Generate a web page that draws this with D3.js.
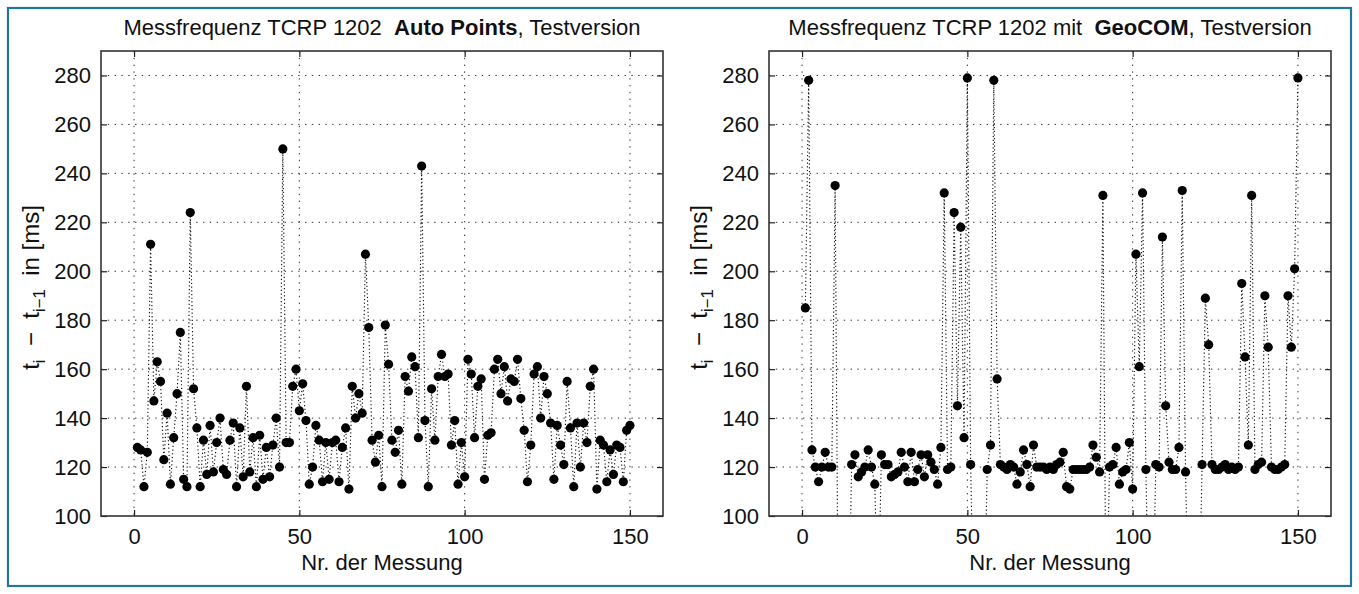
<!DOCTYPE html>
<html>
<head>
<meta charset="utf-8">
<script src="https://cdn.jsdelivr.net/npm/d3@7"></script>
<style>
  body { margin: 0; background: #fff; }
  svg { display: block; }
  text { font-family: "Liberation Sans", Arial, Helvetica, sans-serif; fill: #111; }
</style>
</head>
<body>
<svg id="chart" width="1359" height="594"></svg>
<script>
// ---------- data ----------
const xTicks = [0, 50, 100, 150];
const yTicks = [100, 120, 140, 160, 180, 200, 220, 240, 260, 280];
const xLabel = "Nr. der Messung";

// Left panel: Auto Points, measurement 1..150, t_i - t_{i-1} in ms
const autoPointsValues = [
  128,127,112,126,211,147,163,155,123,142,
  113,132,150,175,115,112,224,152,136,112,
  131,117,137,118,130,140,119,117,131,138,
  112,136,116,153,118,132,112,133,115,128,
  116,129,140,120,250,130,130,153,160,143,
  154,139,113,120,137,131,114,130,115,130,
  131,114,128,136,111,153,140,150,142,207,
  177,131,122,133,112,178,162,131,126,135,
  113,157,151,165,161,132,243,139,112,152,
  131,157,166,157,158,129,139,113,130,116,
  164,158,132,153,156,115,133,134,160,164,
  150,161,147,156,155,164,148,135,114,129,
  158,161,140,157,150,138,115,137,129,121,
  155,136,112,138,120,138,130,153,160,111,
  131,129,114,127,117,129,128,114,135,137
];

// Right panel: GeoCOM, measurement 1..150 (values below 100 lie outside the plotted range)
const geoComValues = [
  185,278,127,120,114,120,126,120,120,235,
  45,50,50,48,121,125,116,118,120,127,
  120,113,60,125,121,121,116,117,118,126,
  120,114,126,114,119,125,116,125,122,119,
  113,128,232,119,120,224,145,218,132,279,
  121,50,50,50,50,119,129,278,156,121,
  120,119,121,120,113,118,127,121,112,129,
  120,120,120,119,120,119,121,122,126,112,
  111,119,119,119,119,119,120,129,124,118,
  231,50,120,121,128,113,118,119,130,111,
  207,161,232,119,50,50,121,120,214,145,
  122,119,119,128,233,118,50,50,50,50,
  121,189,170,121,119,119,120,121,119,120,
  119,120,195,165,129,231,119,121,122,190,
  169,120,119,119,120,121,190,169,201,279
];

const titleAuto = [["Messfrequenz TCRP 1202  ", false], ["Auto Points", true], [", Testversion", false]];
const titleGeo  = [["Messfrequenz TCRP 1202 mit  ", false], ["GeoCOM", true], [", Testversion", false]];

// ---------- layout ----------
const svg = d3.select("#chart");
const W = 1359, H = 594;
const plotTop = 51, plotBottom = 516;
const FONT = 22;
const YFONT = 24;

svg.append("rect").attr("x", 0).attr("y", 0).attr("width", W).attr("height", H).attr("fill", "#fff");
svg.append("rect")
  .attr("x", 8).attr("y", 8).attr("width", W - 16).attr("height", H - 16)
  .attr("fill", "none").attr("stroke", "#21779a").attr("stroke-width", 2.2);

const panels = [
  { id: "a", left: 101, right: 663, title: titleAuto, values: autoPointsValues },
  { id: "b", left: 769, right: 1331, title: titleGeo, values: geoComValues }
];

panels.forEach(p => {
  const x = d3.scaleLinear().domain([-10, 160]).range([p.left, p.right]);
  const y = d3.scaleLinear().domain([100, 290]).range([plotBottom, plotTop]);
  const g = svg.append("g");

  // clip
  svg.append("clipPath").attr("id", "clip-" + p.id)
    .append("rect").attr("x", p.left).attr("y", plotTop)
    .attr("width", p.right - p.left).attr("height", plotBottom - plotTop);

  // grid
  const grid = g.append("g").attr("stroke", "#333").attr("stroke-width", 1)
    .attr("stroke-dasharray", "1.4,5.4").attr("fill", "none");
  grid.selectAll("line.h").data(yTicks.filter(v => v > 100)).join("line")
    .attr("x1", p.left).attr("x2", p.right)
    .attr("y1", d => y(d)).attr("y2", d => y(d));
  grid.selectAll("line.v").data(xTicks).join("line")
    .attr("y1", plotTop).attr("y2", plotBottom)
    .attr("x1", d => x(d)).attr("x2", d => x(d));

  // data
  const data = p.values.map((v, i) => ({ n: i + 1, v }));
  const dg = g.append("g").attr("clip-path", "url(#clip-" + p.id + ")");
  dg.append("path").datum(data)
    .attr("d", d3.line().x(d => x(d.n)).y(d => y(d.v)))
    .attr("fill", "none").attr("stroke", "#111").attr("stroke-width", 1.15)
    .attr("stroke-dasharray", "1.2,2.5");
  dg.selectAll("circle").data(data.filter(d => d.v >= 100)).join("circle")
    .attr("cx", d => x(d.n)).attr("cy", d => y(d.v)).attr("r", 4.6)
    .attr("fill", "#000");

  // axes (ticks inside, box)
  const tickLen = 6;
  const axB = g.append("g").attr("transform", `translate(0,${plotBottom})`)
    .call(d3.axisBottom(x).tickValues(xTicks).tickSize(-tickLen).tickPadding(12).tickFormat(d3.format("d")));
  const axT = g.append("g").attr("transform", `translate(0,${plotTop})`)
    .call(d3.axisTop(x).tickValues(xTicks).tickSize(-tickLen).tickFormat(""));
  const axL = g.append("g").attr("transform", `translate(${p.left},0)`)
    .call(d3.axisLeft(y).tickValues(yTicks).tickSize(-tickLen).tickPadding(10).tickFormat(d3.format("d")));
  const axR = g.append("g").attr("transform", `translate(${p.right},0)`)
    .call(d3.axisRight(y).tickValues(yTicks).tickSize(-tickLen).tickFormat(""));
  [axB, axT, axL, axR].forEach(a => {
    a.select(".domain").remove();
    a.selectAll(".tick line").attr("stroke", "#222").attr("stroke-width", 1.2);
    a.selectAll(".tick text").attr("font-size", FONT).attr("fill", "#111")
      .attr("font-family", '"Liberation Sans", Arial, sans-serif');
  });
  g.append("rect").attr("x", p.left).attr("y", plotTop)
    .attr("width", p.right - p.left).attr("height", plotBottom - plotTop)
    .attr("fill", "none").attr("stroke", "#333").attr("stroke-width", 1.6);

  // title
  const cx = (p.left + p.right) / 2;
  const t = g.append("text").attr("x", cx).attr("y", 35).attr("text-anchor", "middle")
    .attr("font-size", FONT).style("white-space", "pre");
  p.title.forEach(([s, b]) => t.append("tspan").text(s).attr("font-weight", b ? "bold" : "normal"));

  // x label
  g.append("text").attr("x", cx).attr("y", 570).attr("text-anchor", "middle")
    .attr("font-size", FONT).text(xLabel);

  // y label
  const yl = g.append("text")
    .attr("transform", `translate(${p.left - 62},${(plotTop + plotBottom) / 2 + 4}) rotate(-90)`)
    .attr("text-anchor", "middle").attr("font-size", YFONT).style("white-space", "pre");
  yl.append("tspan").text("t");
  yl.append("tspan").text("i").attr("font-size", YFONT * 0.7).attr("dy", 6);
  yl.append("tspan").text("  \u2212  t").attr("dy", -6);
  yl.append("tspan").text("i\u22121").attr("font-size", YFONT * 0.7).attr("dy", 6);
  yl.append("tspan").text("  in [ms]").attr("dy", -6);
});
</script>
</body>
</html>
